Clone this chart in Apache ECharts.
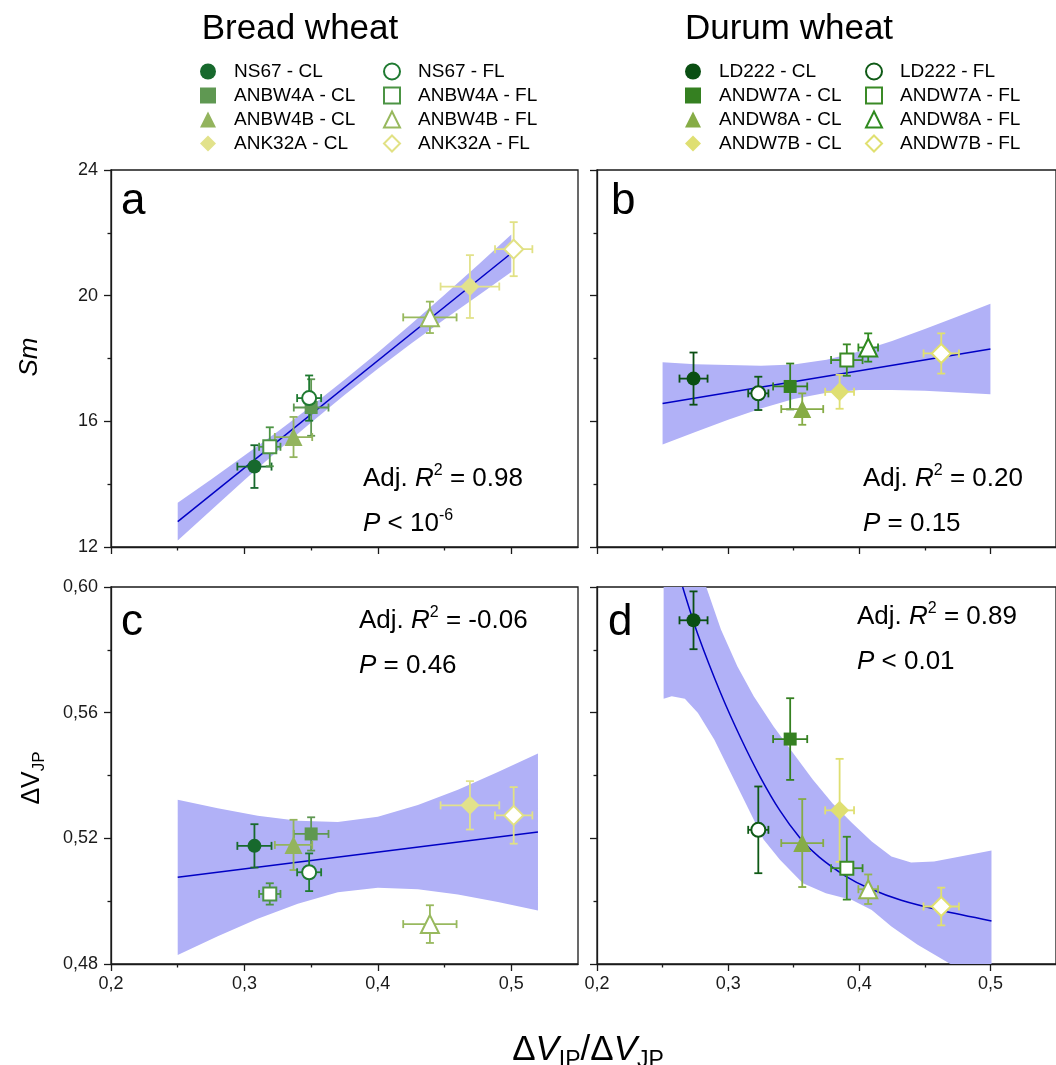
<!DOCTYPE html>
<html lang="en">
<head>
<meta charset="UTF-8">
<title>Sm and ΔVJP against ΔVIP/ΔVJP</title>
<script src="https://cdn.jsdelivr.net/npm/echarts@6.0.0/dist/echarts.min.js"></script>
<style>
  html, body { margin: 0; background: #fff; }
  #main { width: 1056px; height: 1065px; }
</style>
</head>
<body>
<div id="main"></div>
<script>
// four CL lines first, then the four FL lines (same order as the legend columns)
var breadNames = ['NS67 - CL', 'ANBW4A - CL', 'ANBW4B - CL', 'ANK32A - CL',
                  'NS67 - FL', 'ANBW4A - FL', 'ANBW4B - FL', 'ANK32A - FL'];
var durumNames = ['LD222 - CL', 'ANDW7A - CL', 'ANDW8A - CL', 'ANDW7B - CL',
                  'LD222 - FL', 'ANDW7A - FL', 'ANDW8A - FL', 'ANDW7B - FL'];

// x: dVIP/dVJP with its error
var breadRatio    = [0.3075, 0.350, 0.3368, 0.469, 0.3485, 0.319, 0.439, 0.5018];
var breadRatioErr = [0.0128, 0.013, 0.014, 0.022, 0.009, 0.008, 0.020, 0.014];
var durumRatio    = [0.2736, 0.3473, 0.3565, 0.385, 0.323, 0.3905, 0.4068, 0.4625];
var durumRatioErr = [0.0107, 0.013, 0.016, 0.011, 0.0077, 0.012, 0.0075, 0.0135];

// y: Sm (panels a, b)
var breadSm    = [14.56, 16.44, 15.50, 20.29, 16.74, 15.19, 19.31, 21.48];
var breadSmErr = [0.68, 0.90, 0.64, 1.00, 0.72, 0.62, 0.50, 0.86];
var durumSm    = [17.36, 17.11, 16.39, 16.94, 16.89, 17.95, 18.35, 18.16];
var durumSmErr = [0.83, 0.73, 0.50, 0.54, 0.53, 0.50, 0.45, 0.64];

// y: dVJP (panels c, d)
var breadDv    = [0.5176, 0.5214, 0.5179, 0.5305, 0.5092, 0.5023, 0.4927, 0.5273];
var breadDvErr = [0.0069, 0.0053, 0.0080, 0.0077, 0.0060, 0.0034, 0.0060, 0.0090];
var durumDv    = [0.5894, 0.5516, 0.5185, 0.5289, 0.5227, 0.5105, 0.5038, 0.4983];
var durumDvErr = [0.0092, 0.0130, 0.0140, 0.0164, 0.0138, 0.0100, 0.0047, 0.0060];

// fitted curves
var fitAX = [0.25, 0.50], fitAY = [12.81, 21.35];
var fitBX = [0.25, 0.50], fitBY = [16.57, 18.30];
var fitCX = [0.25, 0.52], fitCY = [0.5076, 0.5220];
var fitDX = [0.2653, 0.277, 0.2945, 0.3095, 0.3245, 0.3395, 0.3545, 0.3695, 0.3895, 0.407, 0.432, 0.4628, 0.5008];
var fitDY = [0.6000, 0.5848, 0.5660, 0.5520, 0.5395, 0.5288, 0.5203, 0.5140, 0.5080, 0.5042, 0.5003, 0.4970, 0.4937];

// confidence bands
var bandAX  = [0.25, 0.275, 0.30, 0.325, 0.35, 0.375, 0.40, 0.425, 0.45, 0.475, 0.50];
var bandALo = [12.21, 13.17, 14.13, 15.06, 15.96, 16.84, 17.67, 18.48, 19.25, 20.00, 20.75];
var bandAHi = [13.41, 14.15, 14.91, 15.68, 16.48, 17.32, 18.19, 19.10, 20.03, 20.98, 21.95];
var bandBX  = [0.25, 0.275, 0.30, 0.325, 0.35, 0.375, 0.40, 0.425, 0.45, 0.475, 0.50];
var bandBLo = [15.26, 15.66, 16.05, 16.41, 16.71, 16.91, 17.00, 17.00, 16.97, 16.92, 16.86];
var bandBHi = [17.88, 17.82, 17.79, 17.77, 17.81, 17.96, 18.22, 18.56, 18.94, 19.34, 19.74];
var bandCX  = [0.25, 0.28, 0.31, 0.34, 0.37, 0.40, 0.43, 0.46, 0.49, 0.52];
var bandCLo = [0.4829, 0.4888, 0.4944, 0.4992, 0.5028, 0.5043, 0.5038, 0.5021, 0.4997, 0.4970];
var bandCHi = [0.5323, 0.5296, 0.5272, 0.5256, 0.5252, 0.5269, 0.5306, 0.5355, 0.5411, 0.5470];
var bandDLoX = [0.2508, 0.257, 0.267, 0.277, 0.2895, 0.302, 0.3145, 0.327, 0.3395, 0.357, 0.3745, 0.3945, 0.4095, 0.4245, 0.4445, 0.4695, 0.5008];
var bandDLo  = [0.5644, 0.5652, 0.5644, 0.5599, 0.5514, 0.5408, 0.5302, 0.5196, 0.5132, 0.5057, 0.5025, 0.5004, 0.4972, 0.4919, 0.4861, 0.4800, 0.4728];
var bandDHiX = [0.2508, 0.27, 0.2833, 0.2945, 0.307, 0.3195, 0.3345, 0.3495, 0.3645, 0.3795, 0.3945, 0.4095, 0.4245, 0.4395, 0.457, 0.477, 0.5008];
var bandDHi  = [0.66, 0.625, 0.6000, 0.5865, 0.5748, 0.5652, 0.5557, 0.5472, 0.5387, 0.5312, 0.5249, 0.5190, 0.5142, 0.5123, 0.5126, 0.5142, 0.5161];

var xTicks = [0.2, 0.3, 0.4, 0.5];
var xMinorTicks = [0.25, 0.35, 0.45];

// ---- styles ----
var FONT = 'Liberation Sans, Arial, Helvetica, sans-serif';
var INK = '#1a1a1a';
var BAND = '#b1b1f7';
var FIT = '#0000c4';
var shapes = ['circle', 'rect', 'triangle', 'diamond'];
var sizes = [14, 13, 18, 19];
var breadColors = ['#17692d', '#5f9852', '#93b45d', '#e2e28b', '#1f7a31', '#4c9444', '#98b95e', '#e1e184'];
var durumColors = ['#0a4f13', '#358021', '#86ac46', '#dfdf72', '#0f5a16', '#3a8a26', '#2f8a1f', '#e0e070'];
var durumColorsD = durumColors.slice(); durumColorsD[6] = '#93b552';

var grids = [
  { left: 111, top: 170, width: 467, height: 377 },
  { left: 597, top: 170, width: 467, height: 377 },
  { left: 111, top: 587, width: 467, height: 377 },
  { left: 597, top: 587, width: 467, height: 377 }
];

var panels = [
  { names: breadNames, colors: breadColors, x: breadRatio, xe: breadRatioErr, y: breadSm, ye: breadSmErr,
    fitX: fitAX, fitY: fitAY, loX: bandAX, lo: bandALo, hiX: bandAX, hi: bandAHi },
  { names: durumNames, colors: durumColors, x: durumRatio, xe: durumRatioErr, y: durumSm, ye: durumSmErr,
    fitX: fitBX, fitY: fitBY, loX: bandBX, lo: bandBLo, hiX: bandBX, hi: bandBHi },
  { names: breadNames, colors: breadColors, x: breadRatio, xe: breadRatioErr, y: breadDv, ye: breadDvErr,
    fitX: fitCX, fitY: fitCY, loX: bandCX, lo: bandCLo, hiX: bandCX, hi: bandCHi },
  { names: durumNames, colors: durumColorsD, x: durumRatio, xe: durumRatioErr, y: durumDv, ye: durumDvErr,
    fitX: fitDX, fitY: fitDY, loX: bandDLoX, lo: bandDLo, hiX: bandDHiX, hi: bandDHi, smooth: true }
];

var lineSt = { color: INK, width: 1.3 };

var xAxis = [], yAxis = [];
grids.forEach(function (g, p) {
  var bottomRow = p >= 2;
  xAxis.push({
    type: 'value', gridIndex: p, min: 0.2, max: 0.55, position: 'bottom',
    axisLine: { show: true, onZero: false, lineStyle: lineSt },
    axisTick: { show: true, length: 7, customValues: xTicks, lineStyle: lineSt },
    axisLabel: { show: bottomRow, customValues: xTicks, margin: 11, fontSize: 18, fontFamily: FONT, color: INK,
      formatter: function (v) { return v.toFixed(1).replace('.', ','); } },
    splitLine: { show: false }
  });
  xAxis.push({
    type: 'value', gridIndex: p, min: 0.2, max: 0.55, position: 'bottom',
    axisLine: { show: false, onZero: false },
    axisTick: { show: true, length: 3.5, customValues: xMinorTicks, lineStyle: lineSt },
    axisLabel: { show: false },
    splitLine: { show: false }
  });
  yAxis.push({
    type: 'value', gridIndex: p,
    min: bottomRow ? 0.48 : 12, max: bottomRow ? 0.60 : 24, interval: bottomRow ? 0.04 : 4,
    position: 'left',
    axisLine: { show: true, onZero: false, lineStyle: lineSt },
    axisTick: { show: true, length: 7, lineStyle: lineSt },
    minorTick: { show: true, splitNumber: 2, length: 3.5, lineStyle: lineSt },
    axisLabel: { show: p % 2 === 0, margin: 13, fontSize: 18, fontFamily: FONT, color: INK,
      formatter: function (v) { return bottomRow ? v.toFixed(2).replace('.', ',') : String(Math.round(v)); } },
    splitLine: { show: false }, minorSplitLine: { show: false }
  });
});

function bandRender(pn) {
  return function (params, api) {
    var pts = [], i;
    for (i = 0; i < pn.loX.length; i++) pts.push(api.coord([pn.loX[i], pn.lo[i]]));
    for (i = pn.hiX.length - 1; i >= 0; i--) pts.push(api.coord([pn.hiX[i], pn.hi[i]]));
    return { type: 'polygon', shape: { points: pts }, style: { fill: BAND } };
  };
}

function errRender(params, api) {
  var x = api.value(0), y = api.value(1), xe = api.value(2), ye = api.value(3);
  var l = api.coord([x - xe, y]), r = api.coord([x + xe, y]);
  var t = api.coord([x, y + ye]), b = api.coord([x, y - ye]);
  var cap = 4;
  var st = { stroke: api.visual('color'), lineWidth: 1.8 };
  function seg(x1, y1, x2, y2) { return { type: 'line', shape: { x1: x1, y1: y1, x2: x2, y2: y2 }, style: st }; }
  return { type: 'group', children: [
    seg(l[0], l[1], r[0], r[1]),
    seg(l[0], l[1] - cap, l[0], l[1] + cap),
    seg(r[0], r[1] - cap, r[0], r[1] + cap),
    seg(t[0], t[1], b[0], b[1]),
    seg(t[0] - cap, t[1], t[0] + cap, t[1]),
    seg(b[0] - cap, b[1], b[0] + cap, b[1])
  ] };
}

var series = [];
panels.forEach(function (pn, p) {
  var xi = 2 * p, yi = p;
  series.push({
    type: 'custom', xAxisIndex: xi, yAxisIndex: yi, clip: true, silent: true, z: 1,
    renderItem: bandRender(pn), data: [[pn.loX[0], pn.lo[0]]], encode: { x: 0, y: 1 }
  });
  series.push({
    type: 'line', xAxisIndex: xi, yAxisIndex: yi, z: 2, silent: true, symbol: 'none',
    smooth: pn.smooth ? 0.3 : false, clip: true,
    lineStyle: { color: FIT, width: 1.5 },
    data: pn.fitX.map(function (v, i) { return [v, pn.fitY[i]]; })
  });
  series.push({
    type: 'custom', xAxisIndex: xi, yAxisIndex: yi, z: 3, silent: true,
    renderItem: errRender, encode: { x: 0, y: 1 },
    data: pn.x.map(function (v, k) {
      return { value: [v, pn.y[k], pn.xe[k], pn.ye[k]], itemStyle: { color: pn.colors[k] } };
    })
  });
  pn.names.forEach(function (nm, k) {
    var open = k >= 4;
    series.push({
      type: 'scatter', name: nm, xAxisIndex: xi, yAxisIndex: yi, z: 4,
      symbol: shapes[k % 4], symbolSize: sizes[k % 4],
      itemStyle: open
        ? { color: '#ffffff', borderColor: pn.colors[k], borderWidth: 2, opacity: 1 }
        : { color: pn.colors[k], opacity: 1 },
      emphasis: { disabled: true },
      data: [[pn.x[k], pn.y[k]]]
    });
  });
});

function legend(names, left) {
  return {
    data: names, orient: 'vertical', left: left, top: 62, padding: 0,
    itemWidth: 16, itemHeight: 16, itemGap: 5, selectedMode: false,
    textStyle: { fontSize: 19, fontFamily: FONT, color: '#000', padding: [0, 0, 0, 13] }
  };
}

function txt(x, y, text, size, extra) {
  var o = { type: 'text', x: x, y: y, silent: true,
    style: { text: text, fontSize: size, fontFamily: FONT, fill: '#000',
      align: 'left', verticalAlign: 'middle', textAlign: 'left', textVerticalAlign: 'middle' } };
  if (extra) { for (var k in extra) o.style[k] = extra[k]; }
  return o;
}

var statRich = {
  i: { fontSize: 26, fontFamily: FONT, fontStyle: 'italic', lineHeight: 32 },
  sup: { fontSize: 16, fontFamily: FONT, verticalAlign: 'top', lineHeight: 16 }
};
function stat(x, y, text) { return txt(x, y, text, 26, { rich: statRich, lineHeight: 32 }); }

var labRich = {
  i: { fontSize: 35, fontFamily: FONT, fontStyle: 'italic', lineHeight: 44 },
  sub: { fontSize: 23, fontFamily: FONT, verticalAlign: 'bottom', lineHeight: 23 }
};
var ylabRich = {
  sub: { fontSize: 17, fontFamily: FONT, verticalAlign: 'bottom', lineHeight: 17 }
};

var graphic = [
  txt(300, 29, 'Bread wheat', 35, { align: 'center', textAlign: 'center' }),
  txt(789, 29, 'Durum wheat', 35, { align: 'center', textAlign: 'center' }),
  txt(121, 202, 'a', 44), txt(611, 202, 'b', 44), txt(121, 623, 'c', 44), txt(608, 623, 'd', 44),
  stat(363, 479, 'Adj. {i|R}{sup|2} = 0.98'), stat(363, 524, '{i|P} < 10{sup|-6}'),
  stat(863, 479, 'Adj. {i|R}{sup|2} = 0.20'), stat(863, 524, '{i|P} = 0.15'),
  stat(359, 621, 'Adj. {i|R}{sup|2} = -0.06'), stat(359, 666, '{i|P} = 0.46'),
  stat(857, 617, 'Adj. {i|R}{sup|2} = 0.89'), stat(857, 662, '{i|P} < 0.01'),
  { type: 'text', x: 30, y: 357, rotation: Math.PI / 2, silent: true,
    style: { text: 'Sm', fontSize: 26, fontFamily: FONT, fontStyle: 'italic', fill: '#000',
      align: 'center', verticalAlign: 'middle', textAlign: 'center', textVerticalAlign: 'middle' } },
  { type: 'text', x: 32, y: 778, rotation: Math.PI / 2, silent: true,
    style: { text: 'ΔV{sub|JP}', fontSize: 25, fontFamily: FONT, fill: '#000', lineHeight: 32, rich: ylabRich,
      align: 'center', verticalAlign: 'middle', textAlign: 'center', textVerticalAlign: 'middle' } },
  { type: 'text', x: 588, y: 1050, silent: true,
    style: { text: 'Δ{i|V}{sub|IP}/Δ{i|V}{sub|JP}', fontSize: 35, fontFamily: FONT, fill: '#000', lineHeight: 44,
      rich: labRich, align: 'center', verticalAlign: 'middle', textAlign: 'center', textVerticalAlign: 'middle' } }
];

var chart = echarts.init(document.getElementById('main'));
chart.setOption({
  animation: false,
  backgroundColor: '#fff',
  textStyle: { fontFamily: FONT },
  grid: grids.map(function (g) {
    return { left: g.left, top: g.top, width: g.width, height: g.height, show: true,
      borderColor: INK, borderWidth: 1.3, backgroundColor: 'transparent', containLabel: false };
  }),
  xAxis: xAxis,
  yAxis: yAxis,
  legend: [
    legend(breadNames.slice(0, 4), 200), legend(breadNames.slice(4), 383),
    legend(durumNames.slice(0, 4), 685), legend(durumNames.slice(4), 865)
  ],
  series: series,
  graphic: graphic
});
</script>
</body>
</html>
